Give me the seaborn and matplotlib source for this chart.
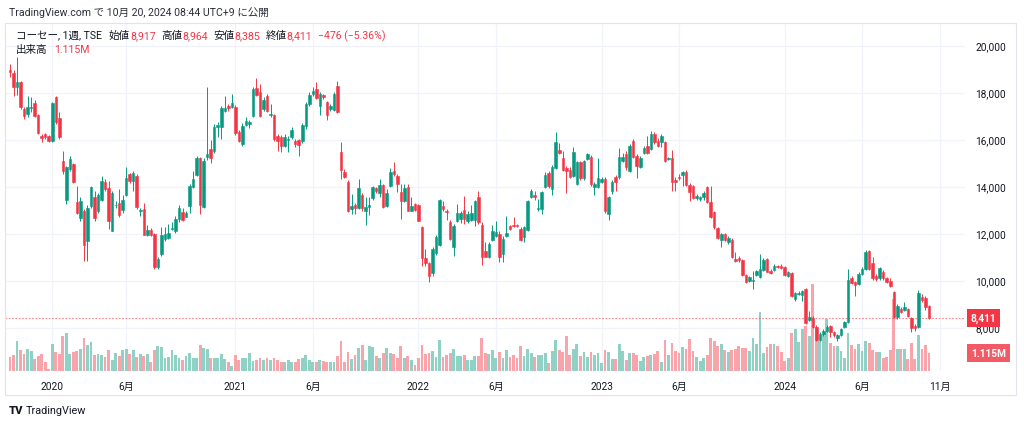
import matplotlib
matplotlib.use('agg')
import matplotlib.pyplot as plt
import matplotlib.dates as mdates
from matplotlib.patches import Rectangle
import numpy as np
import pandas as pd
import seaborn as sns

# weekly bars, week of 2019-10-14 .. week of 2024-10-14 (yen)
opens = [18950,18830,18230,18460,17310,17100,17360,17550,17050,16170,
         16240,16170,15930,17830,16920,15110,13450,14750,14960,13360,
         12650,12980,11680,13190,13570,12980,13450,14210,13950,12130,
         13200,13290,13010,13650,14540,14260,14470,12950,13050,11960,
         12160,11990,10570,11140,11780,11820,12220,12130,12630,12910,
         12730,13190,14000,14510,15210,13150,15250,15600,15530,16530,
         16560,17230,17450,17400,17380,16320,15820,16640,16650,17020,
         18190,18040,17310,17870,17040,17050,16150,16100,15750,15980,
         16100,15950,15980,15930,16600,17520,17940,18160,17450,17900,
         17590,17310,17270,18270,15460,14640,14190,13050,13230,13090,
         13660,12950,13120,13520,13930,13720,14070,13190,14040,14650,
         14440,13760,13400,13970,12980,13260,13220,12270,10970,10740,
         10320,11190,11530,13180,12970,12490,11450,12530,12630,13010,
         12560,12600,12580,13570,12380,11280,11020,11730,11920,12000,
         11140,11920,12320,12370,12370,12200,11850,12160,13550,13650,
         13060,13050,13980,14570,13900,14780,15580,15210,14800,14720,
         14470,14120,15040,14360,15180,15270,13980,14000,14190,14330,
         12840,13800,14400,14400,15080,15390,14660,15930,15320,14820,
         15420,15750,15600,16240,15930,15890,15890,15160,15220,14290,
         14420,14500,14610,14070,14020,13510,13460,13570,13970,13360,
         12910,12240,11730,11990,11640,11730,10920,10970,10880,10260,
         9980,9990,10240,10170,10450,10920,10430,10460,10640,10640,
         10570,10210,10320,9220,9440,9400,9650,8340,8400,8040,
         7480,7730,7850,8080,7800,7550,7690,8020,8230,10100,
         9960,9860,10290,10500,11280,10750,10210,10100,10360,10100,
         10000,9530,8440,8800,8770,8800,8400,8090,8020,9320,
         9250,8917]
highs = [19230,18970,19510,18480,17380,17870,17800,17680,17100,16240,
         16300,16200,17600,17870,17170,15510,14880,15320,15000,14020,
         13550,13050,13200,14050,13800,13750,14470,14330,14260,13800,
         13400,13900,13650,14850,14600,14650,14550,13100,13300,12350,
         12250,12050,11000,12270,12270,12400,12500,12760,13200,13110,
         12950,14100,14680,15300,15280,15200,18230,16000,16650,16750,
         17450,17870,17530,17940,17470,16400,16700,16950,16850,18250,
         18620,18370,17800,17950,17520,17100,16240,16180,16240,16170,
         16520,16050,16020,16700,17600,18050,18230,18440,18020,17960,
         17660,17530,18020,18510,15890,14750,14300,13690,13300,14330,
         13720,13550,13580,14050,14000,14330,14130,13900,14800,15040,
         14540,14120,14120,14120,13560,13300,13280,12340,11350,10800,
         11420,11950,13480,13400,13030,12600,12410,13260,12950,13620,
         12950,13220,13450,13800,12490,11630,11650,12350,12550,12100,
         11920,12740,12380,12700,12400,12300,12340,13430,13900,13800,
         13480,13830,14620,14670,14920,16340,15850,15530,14900,14850,
         15700,15100,15100,15150,15450,15350,14200,15220,14400,14400,
         13620,14300,14500,15650,15450,15520,15820,16020,15400,15300,
         15750,16170,16380,16320,16070,16240,15940,15260,15560,14400,
         14550,14680,14700,14150,14080,13700,13620,13830,14020,14040,
         12950,12280,12050,12050,11900,11800,11210,11050,10930,10300,
         10200,10430,10450,11140,10950,10980,10480,10700,10680,10700,
         10620,10420,10380,9520,9560,9600,9700,8720,8480,8100,
         7800,7950,8100,8130,7850,7750,8000,8300,10500,10200,
         10000,10350,10600,11300,11320,11000,10300,10600,10450,10150,
         10100,9560,9000,8900,9080,8850,8450,8150,9620,9450,
         9350,8964]
lows = [18650,17870,17920,17300,16880,16950,17170,16950,16230,15890,
        16030,15900,15900,16660,16030,14540,13260,14680,14150,12840,
        12550,10850,10850,13100,12540,12900,13400,13830,12200,12100,
        13100,12700,12900,13600,14150,13800,13050,12750,11930,11920,
        11920,10500,10500,11060,11700,11780,12150,12050,12500,12550,
        12700,12900,13950,14450,12840,13100,15150,15010,15450,16100,
        16050,17170,17230,17350,16180,15890,15740,16590,16500,16950,
        17870,16950,17230,17160,16950,15930,15530,15480,15680,15460,
        16030,15700,15300,15850,16450,17450,17870,17730,17060,17740,
        16840,17230,17200,17120,14330,14350,12920,12840,12840,13050,
        12980,12380,12800,13450,13750,13550,13080,13120,13980,14470,
        13760,12630,13330,12950,12950,12980,12520,10640,10640,9960,
        10200,11100,11480,12980,12600,11730,11060,12490,12460,12410,
        12460,12550,12330,12410,10680,10990,10950,11700,11870,10780,
        10780,11870,12150,12270,12280,11680,11630,12120,13510,13450,
        12980,12840,13950,13960,13660,14750,15390,14680,13720,14350,
        14400,14080,14300,14300,15130,14050,13660,13950,14150,12900,
        12580,13700,13800,14330,15030,14700,14620,15230,14370,14780,
        15390,15390,15560,15820,15680,15700,15050,15120,13830,13830,
        14300,14040,14030,13400,13480,13430,13400,13420,13290,12680,
        12200,11770,11420,11700,11580,10960,10790,10800,10220,9920,
        9940,9650,10200,10120,10400,10350,10280,10420,10520,10500,
        10200,10150,9300,9150,9400,9150,8150,8300,7970,7420,
        7420,7650,7800,7590,7600,7450,7650,7980,8200,9850,
        9360,9800,10250,10450,10450,10050,10000,10050,10050,9900,
        9750,8400,8380,8640,8720,8470,7800,7880,7980,9100,
        8760,8385]
closes = [18870,18260,18440,17380,17020,17380,17400,17020,16290,16060,
          16100,15930,17550,16770,16130,14660,14830,15170,14190,12880,
          13400,11530,13080,13980,12670,13650,14260,13900,12560,13720,
          13240,12800,13450,14360,14260,14570,13120,13000,11960,12160,
          11960,10570,10920,11960,11990,12030,12260,12630,13080,12600,
          12870,14040,14330,15210,13240,15110,15390,15220,16530,16630,
          17350,17340,17340,17550,16290,15960,16600,16780,16760,18160,
          17920,17020,17690,17230,17080,16030,15960,15750,16130,16020,
          16410,15800,15760,16630,17520,17900,18090,17770,17940,17800,
          17050,17450,17950,17170,14710,14400,12980,13190,13090,13930,
          13080,13120,13230,13980,13800,14070,13120,13750,14610,14540,
          14120,13400,13930,12980,13190,13020,12560,10970,10740,10210,
          11350,11850,13430,13040,12930,11780,12340,12870,12870,12640,
          12840,12870,13400,12490,11020,11020,11560,12100,12060,11000,
          11780,12030,12200,12320,12320,11730,12270,13380,13830,13550,
          13100,13760,14500,14040,14850,15890,15420,14720,14660,14420,
          15490,15040,14370,15080,15390,14120,14120,14360,14330,12950,
          13550,14210,14190,15280,15250,14820,15750,15270,14890,15220,
          15650,15420,16240,15890,15750,16150,15110,15200,14210,14210,
          14380,14610,14070,13760,13520,13600,13550,13720,13360,12720,
          12270,11820,11990,11730,11820,11020,10820,10880,10260,9960,
          10150,10030,10400,10500,10900,10380,10330,10620,10570,10550,
          10240,10380,9360,9460,9480,9550,8190,8440,8020,7480,
          7730,7870,8020,7800,7690,7690,7940,8230,10040,9900,
          9820,10290,10500,11210,10500,10100,10070,10530,10100,9960,
          9790,8440,8940,8680,8870,8510,7980,7980,9480,9180,
          8887,8411]
# volume, million shares
volumes = [0.88,1.01,1.89,1.32,1.07,1.39,1.26,0.76,0.95,1.07,
           0.57,0.13,1.70,1.20,1.07,2.21,2.39,1.07,1.20,1.26,
           1.39,2.08,1.64,1.83,1.01,1.07,1.01,0.88,1.32,0.69,
           1.13,0.95,1.32,1.39,1.07,1.32,0.88,1.07,0.95,1.07,
           0.57,1.32,1.58,1.51,0.82,0.88,1.32,1.01,0.82,0.69,
           0.95,1.13,0.82,0.82,1.64,1.45,1.39,0.82,0.82,0.82,
           1.07,0.76,0.57,0.32,1.01,0.69,0.82,0.82,1.13,0.63,
           0.69,0.82,0.69,0.82,0.69,0.82,0.69,0.57,0.57,0.69,
           0.57,0.57,0.76,0.82,1.01,0.69,0.57,0.57,0.69,0.63,
           0.57,0.57,0.57,0.95,1.89,0.57,1.20,0.76,1.01,1.45,
           1.64,0.69,1.58,1.51,0.95,0.82,1.13,1.45,1.13,1.07,
           0.82,1.58,0.82,0.95,0.69,0.38,0.82,1.64,1.07,1.13,
           1.26,0.88,1.95,0.88,1.01,1.13,1.39,0.95,0.95,1.01,
           0.69,0.69,0.95,0.95,2.08,1.13,1.07,1.32,0.82,1.20,
           0.82,1.32,0.88,1.01,0.82,1.58,0.95,1.39,1.13,0.88,
           1.01,1.01,1.13,0.50,1.26,1.95,1.32,1.20,2.21,1.01,
           1.39,1.70,0.95,1.20,0.88,1.20,1.01,1.13,0.50,1.32,
           1.20,0.76,0.76,1.70,1.26,0.69,1.13,1.13,1.01,0.63,
           0.88,0.95,1.01,1.07,1.26,0.57,1.95,1.01,1.76,1.26,
           1.13,1.51,1.39,2.02,1.26,0.88,0.63,0.82,1.01,2.08,
           1.89,1.58,1.70,1.32,1.20,1.32,1.39,1.58,1.45,1.45,
           1.26,2.08,1.70,3.72,1.13,1.51,1.70,1.70,1.58,1.20,
           0.63,0.82,2.39,2.65,1.83,2.65,2.84,2.21,5.48,2.77,
           1.89,2.33,3.28,1.76,1.58,1.58,1.26,0.82,2.39,1.64,
           1.39,1.70,1.26,1.89,1.76,1.32,1.20,1.20,0.82,0.88,
           1.32,4.54,1.39,1.39,1.39,0.76,1.76,0.76,2.27,1.39,
           1.64,1.115]

tick_dates = ["2020-01-06", "2020-06-01", "2021-01-04", "2021-06-07",
              "2022-01-03", "2022-06-06", "2023-01-02", "2023-06-05",
              "2024-01-01", "2024-06-03", "2024-11-04"]
tick_labels = ["2020", "6月", "2021", "6月", "2022", "6月", "2023", "6月",
               "2024", "6月", "11月"]
price_ticks = [8000, 10000, 12000, 14000, 16000, 18000, 20000]

sns.set_theme(style="white")
plt.rcParams["font.family"] = ["Roboto", "Noto Sans CJK JP", "DejaVu Sans"]

UP, DOWN = "#089981", "#F23645"
UP_VOL, DOWN_VOL = "#90d1c6", "#f9a4ab"
TXT, GRID = "#131722", "#f0f3fa"
FS = 7.3

o = np.array(opens); h = np.array(highs); l = np.array(lows)
c = np.array(closes); v = np.array(volumes)
x = mdates.date2num(pd.date_range("2019-10-14", periods=len(c), freq="W-MON"))
up = c >= o
cols = np.where(up, UP, DOWN)

W, H = 1024, 427
fig = plt.figure(figsize=(W / 100, H / 100), dpi=100)
rect = [5 / W, 1 - 372 / H, 960 / W, 348 / H]
ax_vol = fig.add_axes(rect)
ax = fig.add_axes(rect, sharex=ax_vol)
ax.patch.set_visible(False)

ax.set_xlim(x[0] - 9.94, x[0] + 1898.6)
ax.set_ylim(6157, 20966)
ax_vol.set_ylim(0, 21.9)

# grid (kept on the bottom axes so it stays behind the volume)
tx = mdates.date2num(pd.to_datetime(tick_dates))
ax_vol.vlines(tx, 0, 1, transform=ax_vol.get_xaxis_transform(), color=GRID, lw=0.9, zorder=0)
ax_vol.hlines(price_ticks, 0, 1, transform=ax.get_yaxis_transform(), color=GRID, lw=0.9, zorder=0)

ax_vol.bar(x, v, width=5.6, color=np.where(up, UP_VOL, DOWN_VOL), linewidth=0, zorder=2)

ax.vlines(x, l, h, colors=cols, lw=0.7, zorder=3)
ax.bar(x, np.abs(c - o), bottom=np.minimum(o, c), width=5.0, color=cols,
       edgecolor=cols, linewidth=0.4, zorder=4)
ax.axhline(c[-1], color=DOWN, lw=0.8, ls=(0, (1.5, 1.5)), alpha=0.6, zorder=2)

ax.set_xticks(tx)
ax.set_xticklabels(tick_labels)
ax.tick_params(axis="x", length=0, pad=7, labelsize=FS, labelcolor=TXT)
ax.yaxis.tick_right()
ax.set_yticks(price_ticks)
ax.set_yticklabels([f"{p:,}" for p in price_ticks])
ax.tick_params(axis="y", length=0, pad=7.5, labelsize=FS, labelcolor=TXT)
ax_vol.set_yticks([])
ax_vol.tick_params(axis="x", length=0, labelbottom=False)
for a in (ax, ax_vol):
    for s in a.spines.values():
        s.set_visible(False)

# last price / last volume tags
ax.annotate(f"{c[-1]:,}", xy=(1, c[-1]), xycoords=ax.get_yaxis_transform(),
            xytext=(4.2, 0), textcoords="offset points", ha="left", va="center",
            fontsize=FS, color="white", fontweight="bold", annotation_clip=False,
            bbox=dict(boxstyle="square,pad=0.35", fc=DOWN, ec="none"), zorder=10)
ax.annotate(f"{v[-1]:.3f}M", xy=(1, v[-1]), xycoords=ax_vol.get_yaxis_transform(),
            xytext=(4.2, 0), textcoords="offset points", ha="left", va="center",
            fontsize=FS, color="white", fontweight="bold", annotation_clip=False,
            bbox=dict(boxstyle="square,pad=0.4", fc="#f25a66", ec="none"), zorder=10)

# header
fig.text(9 / W, 1 - 13 / H, "TradingView.com で 10月 20, 2024 08:44 UTC+9 に公開",
         fontsize=7.6, color="#2a2e39", va="center")

chg = c[-1] - c[-2]
pct = chg / c[-2] * 100


def chain(parts, x0, y0):
    t = fig.text(x0 / W, 1 - y0 / H, parts[0][0], color=parts[0][1],
                 fontsize=FS + 0.3, va="center")
    for s, col, gap in parts[1:]:
        t = ax.annotate(s, xy=(1, 0.5), xycoords=t, xytext=(gap, 0),
                        textcoords="offset points", va="center", ha="left",
                        color=col, fontsize=FS + 0.3, annotation_clip=False)


chain([("コーセー, 1週, TSE", TXT),
       ("始値", TXT, 5), (f"{o[-1]:,}", DOWN, 0),
       ("高値", TXT, 4), (f"{h[-1]:,}", DOWN, 0),
       ("安値", TXT, 4), (f"{l[-1]:,}", DOWN, 0),
       ("終値", TXT, 4), (f"{c[-1]:,}", DOWN, 0),
       (f"−{abs(chg):,} (−{abs(pct):.2f}%)", DOWN, 4)],
      16, 36)
chain([("出来高", TXT), (f"{v[-1]:.3f}M", DOWN, 5)], 16, 50)

# frame and logo
fig.add_artist(Rectangle((5 / W, 1 - 396 / H), 1011 / W, 372 / H, transform=fig.transFigure,
                         fill=False, ec="#e0e3eb", lw=0.8))
fig.text(9 / W, 1 - 411 / H, "TV", fontsize=8, fontweight="heavy", color=TXT, va="center")
fig.text(26 / W, 1 - 411 / H, "TradingView", fontsize=7.8, color=TXT, va="center")

fig.savefig("out.png", dpi=100)
